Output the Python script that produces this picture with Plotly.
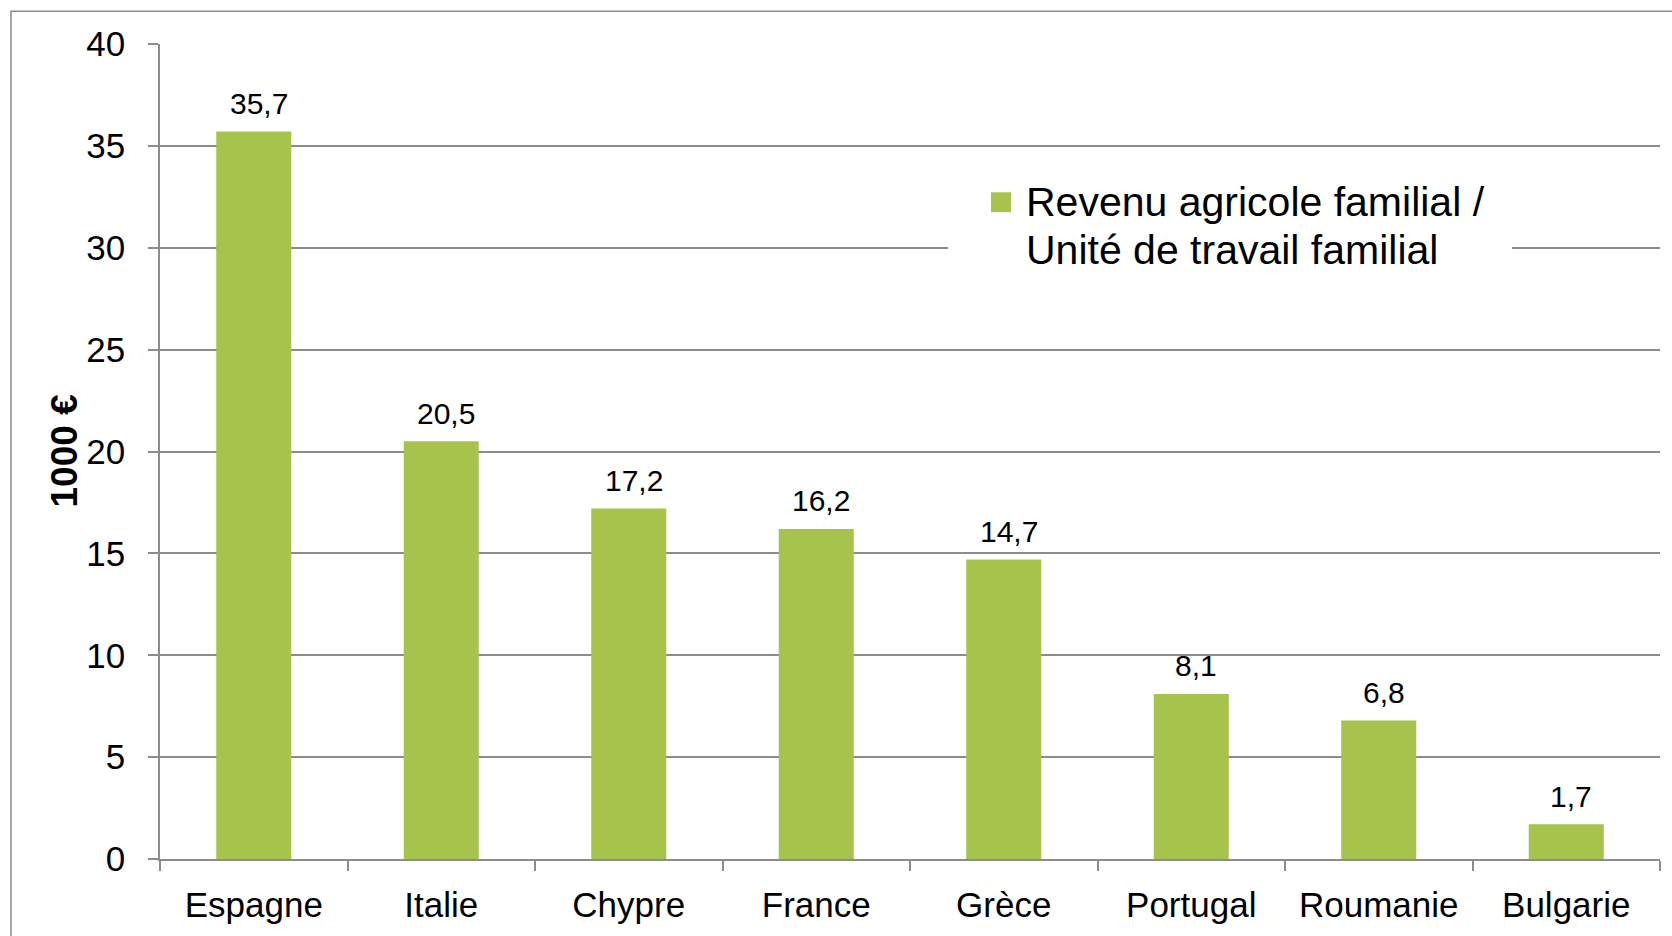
import plotly.graph_objects as go

categories = ["Espagne", "Italie", "Chypre", "France", "Grèce", "Portugal", "Roumanie", "Bulgarie"]
values = [35.7, 20.5, 17.2, 16.2, 14.7, 8.1, 6.8, 1.7]
series_name_lines = ["Revenu agricole familial /", "Unité de travail familial"]
y_title = "1000 €"
y_ticks = [0, 5, 10, 15, 20, 25, 30, 35, 40]

BAR = "#A6C34B"
GRID = "#8C8C8C"
FONT = "Liberation Sans, Arial, sans-serif"

W, H = 1672, 936
L, R, T, B = 160, 12, 44, 73
pw, ph = W - L - R, H - T - B

def px_x(px):
    return (px - L) / pw

def px_y(py):
    return (H - B - py) / ph

fig = go.Figure()
fig.add_trace(go.Bar(
    x=categories, y=values, marker=dict(color=BAR, line=dict(width=0)),
    showlegend=False, hoverinfo="x+y",
))

for c, v in zip(categories, values):
    fig.add_annotation(
        x=c, y=v, text=f"{v:.1f}".replace(".", ","), showarrow=False,
        yanchor="middle", yshift=28, xshift=5,
        font=dict(family=FONT, size=30, color="black"),
    )

# outer frame
fig.add_shape(type="rect", xref="paper", yref="paper",
              x0=px_x(11), x1=px_x(1700), y0=px_y(1000), y1=px_y(11),
              line=dict(color="#8C8C8C", width=1.5), fillcolor="rgba(0,0,0,0)", layer="above")

# legend box (white, hides gridlines)
fig.add_shape(type="rect", xref="paper", yref="paper",
              x0=px_x(948), x1=px_x(1512), y0=px_y(300), y1=px_y(165),
              line=dict(width=0), fillcolor="white", layer="above")
fig.add_shape(type="rect", xref="paper", yref="paper",
              x0=px_x(991), x1=px_x(1011), y0=px_y(213), y1=px_y(193),
              line=dict(width=0), fillcolor=BAR, layer="above")
for i, line in enumerate(series_name_lines):
    fig.add_annotation(
        xref="paper", yref="paper", x=px_x(1024), y=px_y(203 + 48 * i),
        xanchor="left", yanchor="middle", text=line, showarrow=False,
        font=dict(family=FONT, size=41, color="black"),
    )

fig.add_annotation(
    xref="paper", yref="paper", x=px_x(64), y=0.5, text=f"<b>{y_title}</b>",
    textangle=-90, showarrow=False, xanchor="center", yanchor="middle",
    font=dict(family=FONT, size=37, color="black"),
)

fig.update_layout(
    width=W, height=H, margin=dict(l=L, r=R, t=T, b=B),
    paper_bgcolor="white", plot_bgcolor="white",
    bargap=0.6, font=dict(family=FONT, color="black"),
    xaxis=dict(
        type="category", showline=True, linecolor=GRID, linewidth=1.5,
        ticks="outside", tickson="boundaries", ticklen=10, tickcolor=GRID, tickwidth=1.5,
        tickfont=dict(family=FONT, size=35, color="black"), showgrid=False,
        ticklabelstandoff=14,
    ),
    yaxis=dict(
        range=[0, 40], tickvals=y_ticks, showline=True, linecolor=GRID, linewidth=1.5,
        ticks="outside", ticklen=10, tickcolor=GRID, tickwidth=1.5,
        showgrid=True, gridcolor=GRID, gridwidth=1.5, zeroline=False,
        tickfont=dict(family=FONT, size=35, color="black"),
        ticklabelstandoff=16,
    ),
)

fig.write_html("out.html", config={"displayModeBar": False},
               post_script="document.body.style.margin='0';document.body.style.overflow='hidden';")
